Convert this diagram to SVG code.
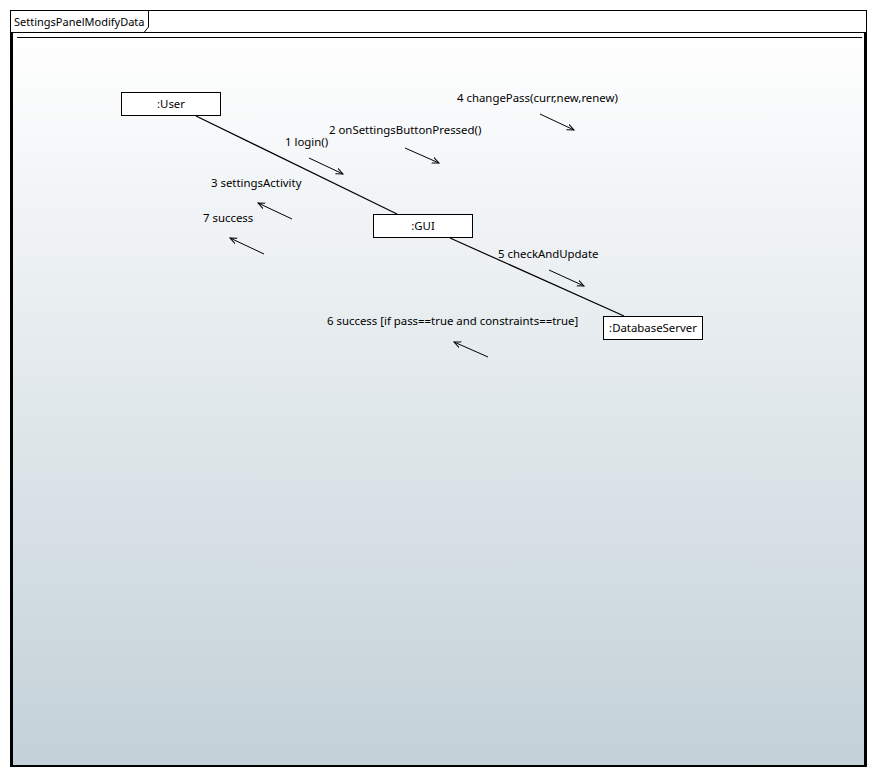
<svg xmlns="http://www.w3.org/2000/svg" width="877" height="777" viewBox="0 0 877 777">
  <defs>
    <linearGradient id="bg" x1="0" y1="0" x2="0" y2="1">
      <stop offset="0" stop-color="#ffffff"/>
      <stop offset="1" stop-color="#c3d1d8"/>
    </linearGradient>
    <marker id="head" viewBox="0 0 8 8" refX="7" refY="4" markerWidth="8" markerHeight="8" markerUnits="userSpaceOnUse" orient="auto">
      <path d="M0,1 L7,4 L0,7" fill="none" stroke="#000" stroke-width="1"/>
    </marker>
    <style>
      text { font-family: "Noto Sans", "Open Sans", "DejaVu Sans", sans-serif; font-size: 11.4px; fill: #000; }
      .tab { font-size: 11px; }
      .node rect { fill: #fff; stroke: #000; stroke-width: 1; }
      .node text { text-anchor: middle; }
      .link { stroke: #000; stroke-width: 1.2; fill: none; }
      .msg { stroke: #000; stroke-width: 1; fill: none; marker-end: url(#head); }
    </style>
  </defs>

  <!-- frame -->
  <rect x="10.5" y="10.5" width="856" height="756" fill="#fff" stroke="#000" stroke-width="1"/>
  <rect x="12" y="32" width="853" height="733" fill="url(#bg)" stroke="none"/>
  <path d="M11.5,32.5 H865.5" stroke="#000" stroke-width="1"/>
  <path d="M12,32 V766 H865 V32" fill="none" stroke="#000" stroke-width="2"/>
  <path d="M17,37.5 H862" stroke="#000" stroke-width="1"/>
  <!-- frame tab -->
  <path d="M148.5,10.5 V27 L144,32.5" fill="none" stroke="#000" stroke-width="1"/>
  <text class="tab" x="14" y="26">SettingsPanelModifyData</text>

  <!-- connectors -->
  <g id="connectors">
    <line class="link" x1="196" y1="116" x2="397" y2="214"/>
    <line class="link" x1="450" y1="238" x2="624" y2="316"/>

    <line class="msg" x1="309" y1="158" x2="343" y2="174"/>
    <line class="msg" x1="405" y1="148" x2="439" y2="163"/>
    <line class="msg" x1="540" y1="114" x2="574" y2="130"/>
    <line class="msg" x1="292" y1="219" x2="258" y2="203"/>
    <line class="msg" x1="264" y1="254" x2="230" y2="238"/>
    <line class="msg" x1="549" y1="270" x2="584" y2="286"/>
    <line class="msg" x1="488" y1="357" x2="454" y2="342"/>

    <text x="285" y="146">1 login()</text>
    <text x="329" y="134">2 onSettingsButtonPressed()</text>
    <text x="211" y="187">3 settingsActivity</text>
    <text x="457" y="102">4 changePass(curr,new,renew)</text>
    <text x="498" y="258">5 checkAndUpdate</text>
    <text x="327" y="325">6 success [if pass==true and constraints==true]</text>
    <text x="203" y="222">7 success</text>
  </g>

  <!-- nodes -->
  <g id="user" class="node">
    <rect x="121.5" y="92.5" width="99" height="23"/>
    <text x="171" y="108">:User</text>
  </g>
  <g id="gui" class="node">
    <rect x="373.5" y="214.5" width="99" height="23"/>
    <text x="423" y="230">:GUI</text>
  </g>
  <g id="databaseServer" class="node">
    <rect x="603.5" y="316.5" width="99" height="23"/>
    <text x="653" y="332">:DatabaseServer</text>
  </g>
</svg>
